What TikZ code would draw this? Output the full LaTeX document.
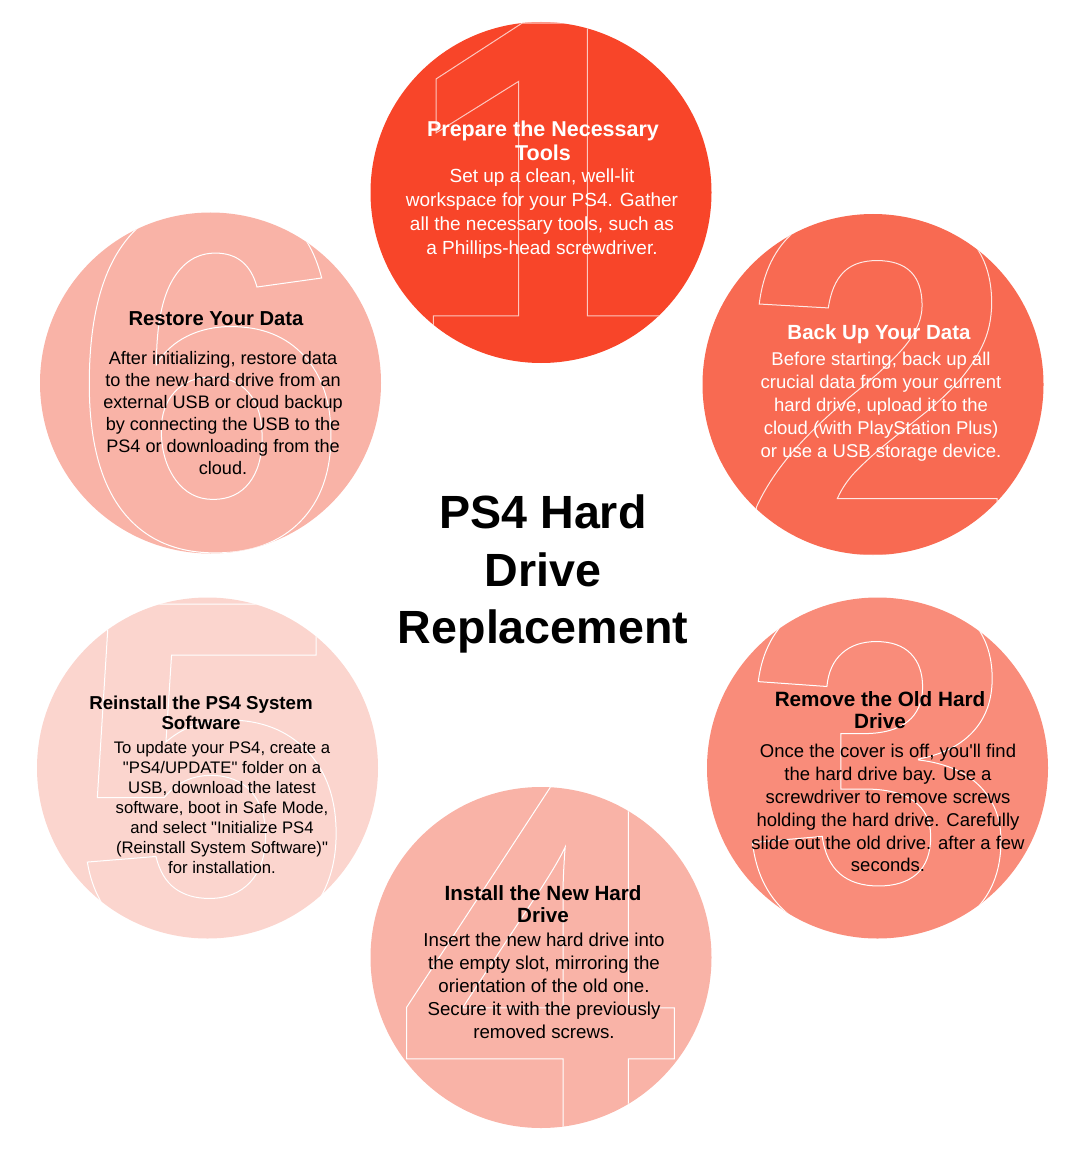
\documentclass[tikz,border=0pt]{standalone}
\usepackage{fontspec}
\setmainfont{Liberation Sans}
\usetikzlibrary{positioning}

\definecolor{stepone}{HTML}{F84529}
\definecolor{steptwo}{HTML}{F86A52}
\definecolor{stepthree}{HTML}{F98C7A}
\definecolor{stepfour}{HTML}{F9B3A7}
\definecolor{stepfive}{HTML}{FBD5CE}
\definecolor{stepsix}{HTML}{F9B3A7}

% hollow numeral: glyph outline only
\newcommand{\hollow}[1]{\special{pdf:literal direct 1 w 1 Tr}#1\special{pdf:literal direct 0 Tr}}

\begin{document}
\begin{tikzpicture}[
    x=1pt, y=-1pt,
    disc/.style={circle, minimum size=341pt, inner sep=0pt},
    numeral/.style={anchor=base, inner sep=0pt, font=\fontsize{500}{500}\selectfont\bfseries},
    head/.style={align=center, inner sep=0pt},
    desc/.style={align=center, inner sep=0pt}
]
    \useasboundingbox (0,0) rectangle (1085,1150);

    % Discs
    \node[disc, fill=stepone]   (c1) at (541,192.5) {};
    \node[disc, fill=steptwo]   (c2) at (873,384.5) {};
    \node[disc, fill=stepthree] (c3) at (877.5,768) {};
    \node[disc, fill=stepfour]  (c4) at (541,957.5) {};
    \node[disc, fill=stepfive]  (c5) at (207.5,768) {};
    \node[disc, fill=stepsix]   (c6) at (210.5,383) {};

    % Hollow numerals, cut to each disc
    \begin{scope}
        \clip (c1.center) circle[radius=170.5pt];
        \node[numeral, text=white!70!stepone] (n1) at (541,367) {\hollow{1}};
    \end{scope}
    \begin{scope}
        \clip (c2.center) circle[radius=170.5pt];
        \node[numeral, text=white!85!steptwo] (n2) at (878,555) {\hollow{2}};
    \end{scope}
    \begin{scope}
        \clip (c3.center) circle[radius=170.5pt];
        \node[numeral, text=white] (n3) at (880,936) {\hollow{3}};
    \end{scope}
    \begin{scope}
        \clip (c4.center) circle[radius=170.5pt];
        \node[numeral, text=white] (n4) at (538,1129) {\hollow{4}};
    \end{scope}
    \begin{scope}
        \clip (c5.center) circle[radius=170.5pt];
        \node[numeral, text=white] (n5) at (211,948) {\hollow{5}};
    \end{scope}
    \begin{scope}
        \clip (c6.center) circle[radius=170.5pt];
        \node[numeral, text=white] (n6) at (210,548) {\hollow{6}};
    \end{scope}

    % Step 1
    \node[head, text=white, font=\fontsize{21.5}{24}\selectfont\bfseries] (t1) at (543,141)
        {Prepare the Necessary\\Tools};
    \node[desc, text=white, font=\fontsize{19}{24}\selectfont, below=7pt of t1, xshift=-1pt] (d1)
        {Set up a clean, well-lit\\workspace for your PS4. Gather\\all the necessary tools, such as\\a Phillips-head screwdriver.};

    % Step 2
    \node[head, text=white, font=\fontsize{20.5}{23}\selectfont\bfseries] (t2) at (879,334)
        {Back Up Your Data};
    \node[desc, text=white, font=\fontsize{18.5}{23}\selectfont, below=8.5pt of t2, xshift=2pt] (d2)
        {Before starting, back up all\\crucial data from your current\\hard drive, upload it to the\\cloud (with PlayStation Plus)\\or use a USB storage device.};

    % Step 3
    \node[head, font=\fontsize{20.7}{22}\selectfont\bfseries] (t3) at (880,710)
        {Remove the Old Hard\\Drive};
    \node[desc, font=\fontsize{18.5}{22.8}\selectfont, below=15.5pt of t3, xshift=8pt] (d3)
        {Once the cover is off, you\textquotesingle ll find\\the hard drive bay. Use a\\screwdriver to remove screws\\holding the hard drive. Carefully\\slide out the old drive. after a few\\seconds.};

    % Step 4
    \node[head, font=\fontsize{20.6}{22}\selectfont\bfseries] (t4) at (543,904)
        {Install the New Hard\\Drive};
    \node[desc, font=\fontsize{18.7}{23}\selectfont, below=9.5pt of t4, xshift=1pt] (d4)
        {Insert the new hard drive into\\the empty slot, mirroring the\\orientation of the old one.\\Secure it with the previously\\removed screws.};

    % Step 5
    \node[head, font=\fontsize{18.7}{20}\selectfont\bfseries] (t5) at (201,713)
        {Reinstall the PS4 System\\Software};
    \node[desc, font=\fontsize{16.7}{20}\selectfont, below=11pt of t5, xshift=21pt] (d5)
        {To update your PS4, create a\\\textquotedbl PS4/UPDATE\textquotedbl\ folder on a\\USB, download the latest\\software, boot in Safe Mode,\\and select \textquotedbl Initialize PS4\\(Reinstall System Software)\textquotedbl\\for installation.};

    % Step 6
    \node[head, font=\fontsize{20.2}{22}\selectfont\bfseries] (t6) at (216,319)
        {Restore Your Data};
    \node[desc, font=\fontsize{18.1}{22}\selectfont, below=25pt of t6, xshift=7pt] (d6)
        {After initializing, restore data\\to the new hard drive from an\\external USB or cloud backup\\by connecting the USB to the\\PS4 or downloading from the\\cloud.};

    % Centre title
    \node[align=center, inner sep=0pt, font=\fontsize{46.6}{57.5}\selectfont\bfseries] (title) at (543,574)
        {PS4 Hard\\Drive\\Replacement};
\end{tikzpicture}
\end{document}
